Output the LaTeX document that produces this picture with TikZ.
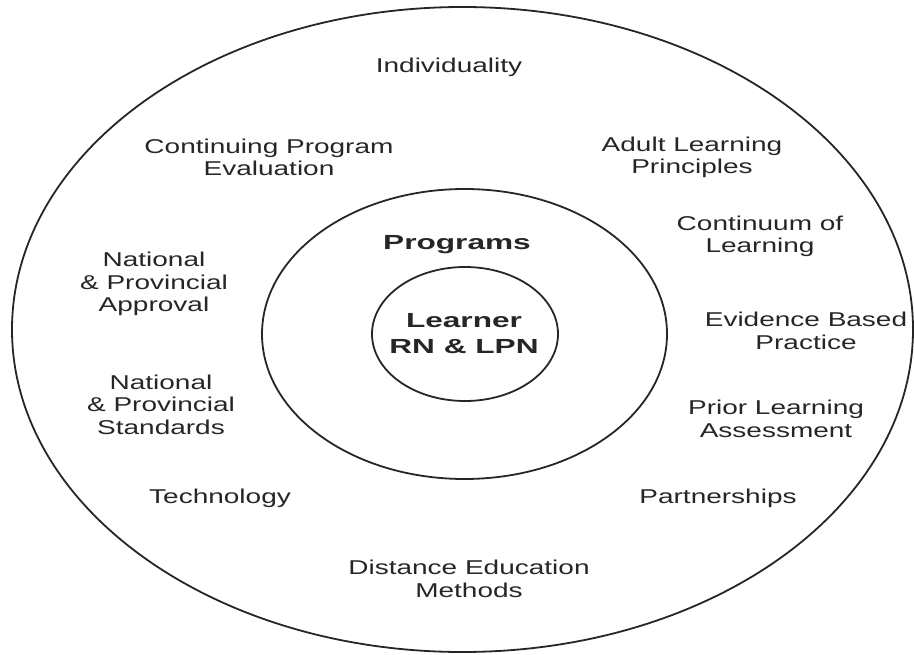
\documentclass[tikz,border=0pt]{standalone}
\usepackage{fontspec}
\setmainfont{Liberation Sans}
\usetikzlibrary{shapes.geometric, positioning}
\tikzstyle{ring} = [draw=black!85, line width=0.9pt]
\tikzstyle{item} = [align=center, text=black!85, font=\fontsize{10}{11.3}\selectfont, xscale=1.4, transform shape]
\tikzstyle{core} = [align=center, text=black!85, font=\fontsize{10.2}{13}\selectfont\bfseries, xscale=1.55, transform shape]

\begin{document}
\begin{tikzpicture}[x=0.5pt, y=0.5pt]
  \useasboundingbox (0,0) rectangle (914,654);

  % rings
  \draw[ring] (462.5,324.5) ellipse [x radius=450.5, y radius=322.5];
  \draw[ring] (464.5,320) ellipse [x radius=202.5, y radius=145];
  \node[ring, ellipse, minimum width=93pt, minimum height=67pt] (learner) at (465,320) {};

  % centre
  \node[core] (learnertext) at (464,320) {Learner\\RN \& LPN};
  \node[core] (programs) at (457,409) {Programs};

  % outer ring
  \node[item] (individuality) at (449,587) {Individuality};
  \node[item] (evaluation) at (269,496.5) {Continuing Program\\Evaluation};
  \node[item] (adult) at (692,496.5) {Adult Learning\\Principles};
  \node[item] (continuum) at (760,417.5) {Continuum of\\Learning};
  \node[item] (approval) at (154,370) {National\\\& Provincial\\Approval};
  \node[item] (evidence) at (806,323) {Evidence Based\\Practice};
  \node[item] (standards) at (161,249.5) {National\\\& Provincial\\Standards};
  \node[item] (prior) at (776,235) {Prior Learning\\Assessment};
  \node[item] (technology) at (220,156) {Technology};
  \node[item] (partners) at (718,156) {Partnerships};
  \node[item] (distance) at (469,75) {Distance Education\\Methods};
\end{tikzpicture}
\end{document}
